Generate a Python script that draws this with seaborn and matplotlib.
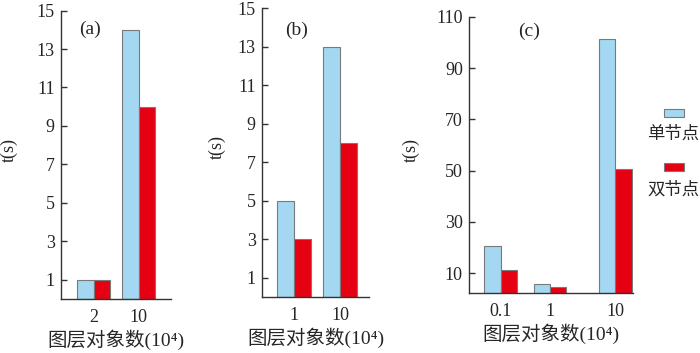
import matplotlib
matplotlib.use("Agg")
import matplotlib.pyplot as plt
import seaborn as sns
import pandas as pd
from matplotlib.patches import Rectangle

# ---------------- data ----------------
series = ["单节点", "双节点"]
cats_a = ["2", "10"]
single_a = [1, 14]
double_a = [1, 10]
cats_b = ["1", "10"]
single_b = [5, 13]
double_b = [3, 8]
cats_c = ["0.1", "1", "10"]
single_c = [20.5, 5.8, 101.5]
double_c = [11.3, 4.6, 50.6]
yticks_ab = [1, 3, 5, 7, 9, 11, 13, 15]
yticks_c = [10, 30, 50, 70, 90, 110]
panel_labels = ["(a)", "(b)", "(c)"]
xlabel_text = "图层对象数(10⁴)"
ylabel_text = "t(s)"

# ---------------- layout / style ----------------
slot_c = [0, 1, 2.33]
blue = "#a3d7f2"
red = "#e50012"
edge = "#7a7a7a"
spine_col = "#333333"

sns.set_style("ticks")
plt.rcParams["font.family"] = ["Liberation Serif", "Noto Sans CJK SC", "DejaVu Sans"]


def frame(cats, s, d):
    return pd.DataFrame({
        "cat": list(cats) * 2,
        "series": [series[0]] * len(cats) + [series[1]] * len(cats),
        "t": list(s) + list(d),
    })


fig = plt.figure(figsize=(7.0, 3.53), dpi=100)
ax_a = fig.add_axes([0.0871, 0.153, 0.157, 0.817])
ax_b = fig.add_axes([0.3743, 0.1586, 0.1529, 0.8184])
ax_c = fig.add_axes([0.670, 0.170, 0.2343, 0.782])

df_a = frame(cats_a, single_a, double_a)
df_b = frame(cats_b, single_b, double_b)
df_c = frame(cats_c, single_c, double_c)
df_c["pos"] = df_c["cat"].map(dict(zip(cats_c, slot_c)))

kw = dict(y="t", hue="series", hue_order=series, palette=[blue, red],
          edgecolor=edge, linewidth=0.8, legend=False, saturation=1)

sns.barplot(data=df_a, x="cat", order=cats_a, width=0.73, ax=ax_a, **kw)
sns.barplot(data=df_b, x="cat", order=cats_b, width=0.74, ax=ax_b, **kw)
sns.barplot(data=df_c, x="pos", native_scale=True, width=0.67, ax=ax_c, **kw)

ax_a.set_xlim(-0.73, 1.71)
ax_b.set_xlim(-0.70, 1.63)
ax_c.set_xlim(-0.65, 2.69)
ax_a.set_ylim(0, 15)
ax_b.set_ylim(0, 15)
ax_c.set_ylim(2.2, 110)

ax_c.set_xticks(slot_c)
ax_c.set_xticklabels(cats_c)

ylab_x = [-0.47, -0.42, -0.35]
ylab_y = [0.516, 0.52, 0.518]
text_pos = [(0.26, 0.936), (0.32, 0.924), (0.366, 0.949)]
for ax, yt, lab, yx, yy, tp in zip([ax_a, ax_b, ax_c], [yticks_ab, yticks_ab, yticks_c],
                                   panel_labels, ylab_x, ylab_y, text_pos):
    ax.set_yticks(yt)
    ax.set_yticklabels([str(v) for v in yt])
    sns.despine(ax=ax)
    for s in ["left", "bottom"]:
        ax.spines[s].set_color(spine_col)
        ax.spines[s].set_linewidth(1.0)
    ax.tick_params(axis="y", direction="in", length=4, width=1.0, color=spine_col,
                   labelsize=13, pad=4.5)
    ax.tick_params(axis="x", length=0, labelsize=13, pad=7.5)
    ax.set_xlabel(xlabel_text, fontsize=14, labelpad=2)
    ax.set_ylabel(ylabel_text, fontsize=13, va="center")
    ax.yaxis.set_label_coords(yx, yy)
    ax.text(tp[0], tp[1], lab, transform=ax.transAxes, ha="center", va="center",
            fontsize=14)
    ax.grid(False)

# manual legend (handle above label)
fig.patches.append(Rectangle((0.9486, 0.6686), 0.0286, 0.0227, transform=fig.transFigure,
                             facecolor=blue, edgecolor=edge, linewidth=0.8))
fig.patches.append(Rectangle((0.9486, 0.5156), 0.0286, 0.0227, transform=fig.transFigure,
                             facecolor=red, edgecolor=edge, linewidth=0.8))
fig.text(0.9614, 0.6176, series[0], ha="center", va="center", fontsize=12.5)
fig.text(0.9614, 0.4618, series[1], ha="center", va="center", fontsize=12.5)

fig.savefig("out.png", dpi=100)
